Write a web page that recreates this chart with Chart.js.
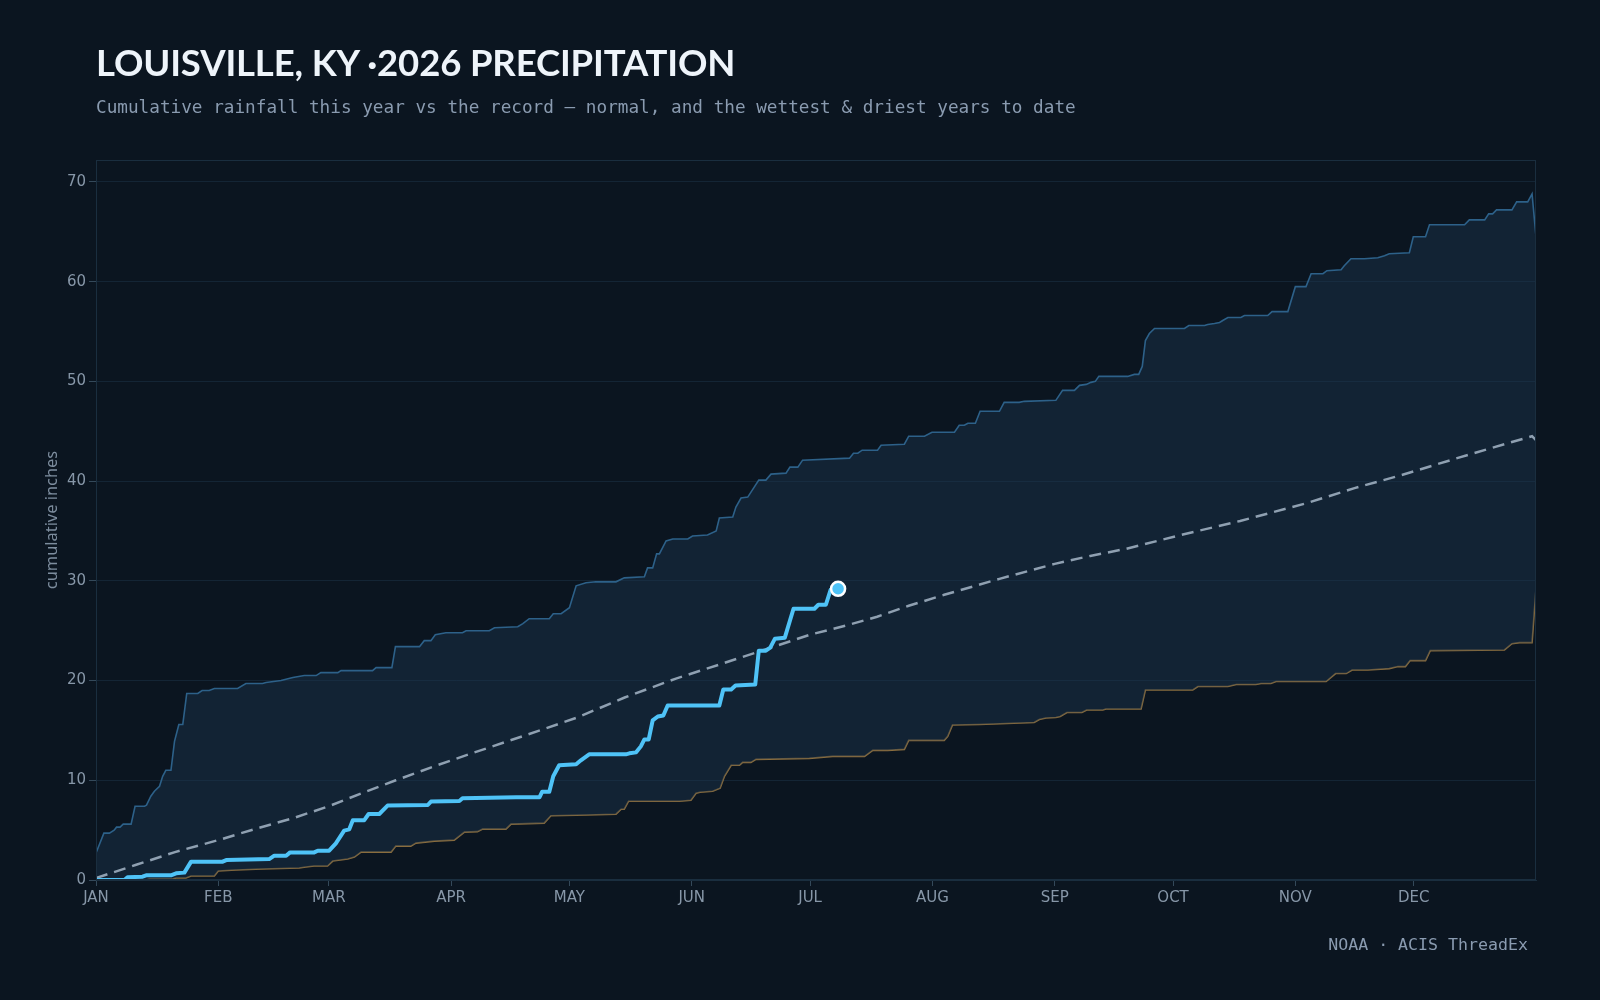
<!DOCTYPE html>
<html>
<head>
<meta charset="utf-8">
<script src="https://cdn.jsdelivr.net/npm/chart.js@4.4.1/dist/chart.umd.min.js"></script>
<style>
html, body { margin: 0; padding: 0; background: #0b1520; }
#wrap { position: relative; width: 1600px; height: 1000px; }
#title { position: absolute; left: 96px; top: 44px; font: 700 36.5px Lato; letter-spacing: -0.15px; line-height: 1; color: #eef4fa; white-space: nowrap; }
#sub { position: absolute; left: 96px; top: 99px; font: 17.7px "DejaVu Sans Mono"; line-height: 1; color: #8a9bb0; white-space: nowrap; }
#src { position: absolute; right: 72px; top: 937px; font: 16.6px "DejaVu Sans Mono"; line-height: 1; color: #8a9bb0; white-space: nowrap; }
canvas { position: absolute; left: 0; top: 0; }
</style>
</head>
<body>
<div id="wrap">
  <canvas id="chart" width="1600" height="1000"></canvas>
  <div id="title">LOUISVILLE, KY ·2026 PRECIPITATION</div>
  <div id="sub">Cumulative rainfall this year vs the record — normal, and the wettest &amp; driest years to date</div>
  <div id="src">NOAA · ACIS ThreadEx</div>
</div>
<script>
// month ticks (day of year)
const monthDays = [0, 31, 59, 90, 120, 151, 181, 212, 243, 273, 304, 334]
const monthLabels = ['JAN', 'FEB', 'MAR', 'APR', 'MAY', 'JUN', 'JUL', 'AUG', 'SEP', 'OCT', 'NOV', 'DEC']

// 2026 to date
const yearDays = [0, 7.2, 8, 11.8, 12.7, 19, 20.3, 22.4, 24.1, 32.1, 33, 43.9, 45.2, 48.2, 49.2, 55.3, 56.2, 59.1, 60.8, 62.9, 64.2, 65.1, 68, 69.1, 71.8, 73.9, 84.1, 84.9, 92.1, 92.9, 106.5, 112.4, 113.1, 114.9, 115.9, 117.4, 121.7, 122.9, 125, 134.3, 135.2, 136.9, 138.1, 139, 140.1, 141.1, 142.4, 143.8, 144.9, 158, 159, 161, 162.1, 167.1, 168, 169.8, 170.9, 172.1, 174.6, 176.8, 182.1, 183.1, 185, 186.2, 188.1]
const yearVals = [0, 0, 0.27, 0.33, 0.47, 0.47, 0.67, 0.74, 1.84, 1.84, 2.0, 2.1, 2.44, 2.44, 2.77, 2.77, 2.94, 2.94, 3.68, 4.95, 5.08, 6.0, 6.0, 6.62, 6.62, 7.46, 7.52, 7.86, 7.92, 8.19, 8.29, 8.29, 8.86, 8.86, 10.4, 11.5, 11.6, 12.0, 12.6, 12.6, 12.7, 12.8, 13.4, 14.1, 14.1, 16.0, 16.4, 16.5, 17.5, 17.5, 19.1, 19.1, 19.5, 19.6, 23.0, 23.0, 23.3, 24.2, 24.3, 27.2, 27.2, 27.6, 27.6, 29.1, 29.2]

// normal
const normDays = [0, 10, 20, 31, 41, 50, 59, 68, 76, 85, 93, 105, 114, 122, 134, 147, 158, 168, 181, 190, 198, 206, 215, 229, 243, 252, 261, 275, 290, 307, 319, 330, 345, 357, 364, 365]
const normVals = [0.2, 1.5, 2.8, 4.0, 5.2, 6.2, 7.4, 8.8, 10.0, 11.3, 12.4, 14.0, 15.2, 16.3, 18.3, 20.2, 21.6, 22.9, 24.6, 25.5, 26.4, 27.5, 28.6, 30.2, 31.7, 32.5, 33.2, 34.6, 36.0, 37.8, 39.3, 40.5, 42.3, 43.7, 44.5, 44.1]

// wettest to date
const wetDays = [0, 2, 3.4, 4.6, 5.2, 6.1, 6.9, 8.9, 9.9, 12.3, 12.8, 13.9, 14.8, 16.1, 16.9, 17.7, 19, 19.9, 21, 22, 23, 25.8, 26.9, 28.7, 30, 35.9, 38, 42.2, 43.1, 46.9, 49.9, 52.8, 55.8, 57, 61.3, 62.1, 70.1, 71, 75, 75.9, 82, 83.2, 84.9, 86, 88.7, 92.9, 93.8, 99.7, 101, 106.9, 108.2, 109.8, 114.9, 115.9, 117.9, 120, 121.7, 124.2, 126.7, 131.8, 133.9, 139, 139.8, 141.1, 142.1, 142.8, 144.5, 146.2, 150, 151.2, 155, 157.2, 158, 161.4, 162.2, 163.5, 165.2, 168, 169.8, 171.1, 174.9, 175.9, 177.9, 179.1, 191, 192, 193.1, 194.2, 198.1, 199, 204.9, 206, 210, 211.9, 217.6, 218.8, 220.1, 221, 222.9, 224.1, 229, 230.2, 234, 235.3, 243.3, 245, 248, 249.3, 251, 252.2, 253.3, 254.2, 261.5, 263.2, 264.3, 265.2, 266, 267, 268.3, 275.9, 277, 281, 281.8, 283.5, 284.8, 285.6, 286.9, 290.2, 291.1, 297, 298.1, 302.1, 304, 306.7, 308, 311, 312, 315.6, 316.4, 318.1, 321.5, 324.9, 326.6, 327.8, 332.9, 333.9, 337, 338, 346.9, 348.1, 352, 353, 354, 355, 358.9, 360.1, 362.9, 364, 365]
const wetVals = [2.7, 4.7, 4.7, 5.0, 5.3, 5.3, 5.6, 5.6, 7.4, 7.4, 7.5, 8.4, 8.9, 9.4, 10.4, 11.0, 11.0, 13.9, 15.6, 15.6, 18.7, 18.7, 19.0, 19.0, 19.2, 19.2, 19.7, 19.7, 19.8, 20.0, 20.3, 20.5, 20.5, 20.8, 20.8, 21.0, 21.0, 21.3, 21.3, 23.4, 23.4, 24.0, 24.0, 24.6, 24.8, 24.8, 25.0, 25.0, 25.3, 25.4, 25.7, 26.2, 26.2, 26.7, 26.7, 27.3, 29.5, 29.8, 29.9, 29.9, 30.3, 30.4, 31.3, 31.3, 32.7, 32.7, 34.0, 34.2, 34.2, 34.5, 34.6, 35.0, 36.3, 36.4, 37.4, 38.3, 38.4, 40.1, 40.1, 40.7, 40.8, 41.4, 41.4, 42.1, 42.3, 42.8, 42.8, 43.1, 43.1, 43.6, 43.7, 44.5, 44.5, 44.9, 44.9, 45.6, 45.6, 45.8, 45.8, 47.0, 47.0, 47.9, 47.9, 48.0, 48.1, 49.1, 49.1, 49.6, 49.7, 49.9, 50.0, 50.5, 50.5, 50.7, 50.7, 51.5, 54.1, 54.8, 55.3, 55.3, 55.6, 55.6, 55.7, 55.8, 55.9, 56.1, 56.4, 56.4, 56.6, 56.6, 57.0, 57.0, 59.5, 59.5, 60.8, 60.8, 61.1, 61.2, 61.6, 62.3, 62.3, 62.4, 62.6, 62.8, 62.9, 64.5, 64.5, 65.7, 65.7, 66.2, 66.2, 66.8, 66.8, 67.2, 67.2, 68.0, 68.0, 68.8, 64.5]

// driest to date
const dryDays = [0, 12.7, 13.5, 19.4, 20.3, 22.8, 24.1, 30, 31, 35.5, 42.2, 51.5, 53.2, 55.3, 58.7, 60, 63.8, 65.5, 67.2, 74.8, 76, 79.8, 81.1, 85.8, 90.8, 93.4, 96.7, 98, 103.9, 105.2, 113.6, 115.3, 121.7, 131.8, 133.1, 133.9, 135, 147.9, 150.8, 152.1, 153.1, 156.3, 158.2, 159.3, 161, 163.1, 163.9, 166, 167.3, 180.8, 186.7, 194.8, 196.9, 200.7, 204.9, 206, 215, 215.9, 217.1, 223.9, 237.8, 239.1, 240.8, 243.3, 244.4, 246.1, 249.9, 251.1, 255.2, 256, 264.9, 266, 278, 279.3, 286.9, 289, 294, 295.3, 297.8, 299.1, 311.8, 314.2, 316.9, 318.4, 322.4, 327.8, 330, 331.9, 333.1, 337, 338.2, 357, 358.9, 360.8, 364, 365]
const dryVals = [0, 0, 0.1, 0.1, 0.2, 0.2, 0.4, 0.4, 0.9, 1.0, 1.1, 1.2, 1.3, 1.4, 1.4, 1.9, 2.1, 2.3, 2.8, 2.8, 3.4, 3.4, 3.7, 3.9, 4.0, 4.8, 4.85, 5.1, 5.1, 5.6, 5.7, 6.45, 6.5, 6.6, 7.1, 7.1, 7.9, 7.9, 8.0, 8.7, 8.8, 8.9, 9.2, 10.4, 11.5, 11.5, 11.8, 11.8, 12.1, 12.2, 12.4, 12.4, 13.0, 13.0, 13.1, 14.0, 14.0, 14.4, 15.55, 15.6, 15.8, 16.1, 16.25, 16.3, 16.4, 16.8, 16.8, 17.05, 17.05, 17.15, 17.15, 19.06, 19.06, 19.4, 19.4, 19.6, 19.6, 19.7, 19.7, 19.9, 19.9, 20.7, 20.7, 21.06, 21.06, 21.2, 21.4, 21.4, 22.0, 22.0, 23.0, 23.07, 23.7, 23.8, 23.8, 29.25]

function puntos(dias, valores) {
    return dias.map((d, i) => ({ x: d, y: valores[i] }))
}

// borde del area del grafico
const marco = {
    id: 'marco',
    afterDraw(chart) {
        const { ctx, chartArea: a } = chart
        ctx.save()
        ctx.strokeStyle = '#1a2e3f'
        ctx.lineWidth = 1
        ctx.strokeRect(a.left + 0.5, a.top + 0.5, a.right - a.left - 1, a.bottom - a.top - 1)
        ctx.restore()
    }
}

const tickColor = '#8797a8'
const lastYear = yearDays.length - 1

new Chart(document.querySelector('#chart'), {
    type: 'line',
    data: {
        datasets: [
            {
                label: '2026',
                data: puntos(yearDays, yearVals),
                borderColor: '#4fc3f7',
                borderWidth: 4,
                borderJoinStyle: 'round',
                borderCapStyle: 'round',
                fill: false,
                pointRadius: ctx => ctx.dataIndex === lastYear ? 7 : 0,
                pointBackgroundColor: '#4fc3f7',
                pointBorderColor: '#ffffff',
                pointBorderWidth: 2.5,
            },
            {
                label: 'normal',
                data: puntos(normDays, normVals),
                borderColor: '#8fa0b1',
                borderWidth: 2.5,
                borderDash: [12, 7],
                fill: false,
                pointRadius: 0,
            },
            {
                label: 'wettest',
                data: puntos(wetDays, wetVals),
                borderColor: '#2d6189',
                borderWidth: 1.6,
                fill: { target: '+1', above: 'rgba(28,56,80,0.42)', below: 'rgba(28,56,80,0.42)' },
                pointRadius: 0,
            },
            {
                label: 'driest',
                data: puntos(dryDays, dryVals),
                borderColor: '#8a6d3e',
                borderWidth: 1.6,
                fill: false,
                pointRadius: 0,
            },
        ]
    },
    options: {
        responsive: false,
        animation: false,
        layout: { padding: { left: 0, top: 160, right: 64, bottom: 80 } },
        scales: {
            x: {
                type: 'linear',
                min: 0,
                max: 365,
                afterFit(scale) { scale.height = 40 },
                afterBuildTicks(scale) { scale.ticks = monthDays.map(v => ({ value: v })) },
                ticks: {
                    color: tickColor,
                    font: { family: 'DejaVu Sans', size: 15 },
                    padding: 3,
                    maxRotation: 0,
                    autoSkip: false,
                    callback: (v) => monthLabels[monthDays.indexOf(v)],
                },
                grid: { drawOnChartArea: false, drawTicks: true, tickLength: 6, tickColor: '#34495a' },
                border: { color: '#1a2e3f' },
            },
            y: {
                min: 0,
                max: 72.2,
                afterFit(scale) { scale.width = 96 },
                ticks: {
                    stepSize: 10,
                    includeBounds: false,
                    color: tickColor,
                    font: { family: 'DejaVu Sans', size: 15 },
                    padding: 3,
                },
                grid: { color: 'rgba(32,58,80,0.45)', tickLength: 7, tickColor: '#34495a' },
                border: { color: '#1a2e3f' },
                title: {
                    display: true,
                    text: 'cumulative inches',
                    color: '#7d8d9e',
                    font: { family: 'Noto Sans', size: 16.4 },
                    padding: { top: 42, bottom: 0 },
                },
            },
        },
        plugins: {
            legend: { display: false },
            tooltip: { enabled: false },
        },
    },
    plugins: [marco],
})
</script>
</body>
</html>
